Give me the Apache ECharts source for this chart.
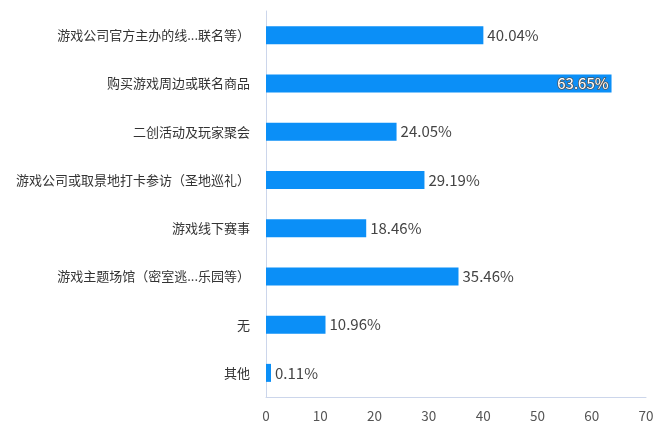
<!DOCTYPE html>
<html>
<head>
  <meta charset="utf-8">
  <title>游戏线下活动参与情况</title>
  <script src="https://cdn.jsdelivr.net/npm/echarts@6/dist/echarts.min.js"></script>
  <style>
    html, body { margin: 0; padding: 0; background: #fff; }
    #chart { width: 660px; height: 440px; }
  </style>
</head>
<body>
  <div id="chart"></div>
  <script>
    // 类别与数值
    let categories = [
      '游戏公司官方主办的线...联名等）',
      '购买游戏周边或联名商品',
      '二创活动及玩家聚会',
      '游戏公司或取景地打卡参访（圣地巡礼）',
      '游戏线下赛事',
      '游戏主题场馆（密室逃...乐园等）',
      '无',
      '其他'
    ];
    let values = [40.04, 63.65, 24.05, 29.19, 18.46, 35.46, 10.96, 0.11];
    let xTicks = [0, 10, 20, 30, 40, 50, 60, 70];

    let font = '"Noto Sans CJK SC", "Noto Sans", sans-serif';
    let myChart = echarts.init(document.getElementById('chart'));

    let seriesData = values.map(function (v) {
      // 最长的那条把标签放在条内
      if (v === Math.max.apply(null, values)) {
        return {
          value: v,
          label: {
            position: 'insideRight',
            distance: 3,
            color: '#fff',
            textBorderColor: '#555',
            textBorderWidth: 1.5
          }
        };
      }
      return v;
    });

    let option = {
      animation: false,
      grid: {
        left: 266, right: 14, top: 11, bottom: 43,
        containLabel: false, outerBoundsMode: 'none'
      },
      xAxis: {
        type: 'value',
        min: xTicks[0],
        max: xTicks[xTicks.length - 1],
        interval: 10,
        axisLine: { show: true, lineStyle: { color: '#ccd6eb' } },
        axisTick: { show: false },
        splitLine: { show: false },
        axisLabel: { color: '#555', fontSize: 13.5, fontFamily: font, margin: 12 }
      },
      yAxis: {
        type: 'category',
        inverse: true,
        data: categories,
        axisLine: { show: true, lineStyle: { color: '#ccd6eb' } },
        axisTick: { show: false },
        axisLabel: { color: '#333', fontSize: 13, fontFamily: font, margin: 16 }
      },
      series: [
        {
          type: 'bar',
          data: seriesData,
          barWidth: 18,
          barMinHeight: 5,
          itemStyle: { color: '#0b8ff7' },
          label: {
            show: true,
            position: 'right',
            distance: 4,
            formatter: '{c}%',
            color: '#444',
            fontSize: 15,
            fontFamily: font
          }
        }
      ]
    };
    myChart.setOption(option);
  </script>
</body>
</html>
